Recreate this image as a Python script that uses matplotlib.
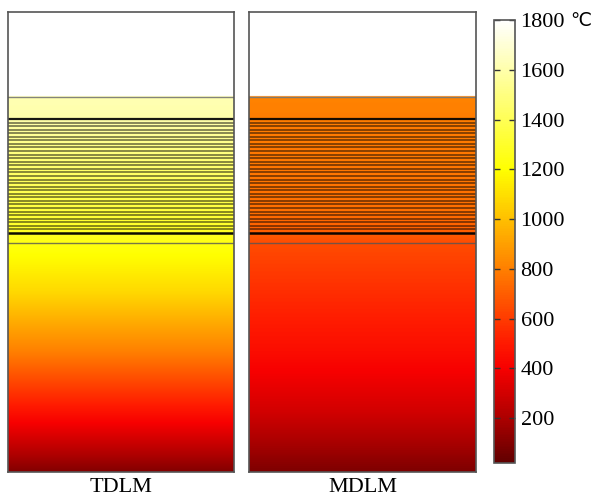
import numpy as np
import matplotlib
matplotlib.use("Agg")
import matplotlib.pyplot as plt
from matplotlib.colors import LinearSegmentedColormap, Normalize

# ---------------- data ----------------
panels = ["TDLM", "MDLM"]
# layer boundaries (height from bottom, model units)
total_height = 460
air_bottom = 375          # white (air) region above this height
slag_bottom = 353         # slag layer 353..375
band_bottom = 239         # multilayer band 239..353
n_thin_layers = 32
sub_bottom = 229          # layer 229..239, then bulk 0..229

# temperature profiles (height, °C)
tdlm_heights = [0, 60, 120, 180, 229, 239, 260, 300, 353, 375]
tdlm_temps = [100, 470, 800, 1080, 1240, 1280, 1340, 1440, 1600, 1620]
mdlm_heights = [0, 60, 120, 180, 229, 239, 260, 300, 353, 375]
mdlm_temps = [90, 300, 450, 560, 650, 700, 750, 775, 795, 810]

cbar_ticks = [200, 400, 600, 800, 1000, 1200, 1400, 1600, 1800]
cbar_labels = ["200", "400", "600", "800", "1000", "1200", "1400", "1600", "1800"]
unit_label = "℃"
tmin, tmax = 20, 1800

# colormap nodes (°C, colour)
cmap_vals = [20, 200, 400, 500, 800, 1000, 1200, 1800]
cmap_cols = [(0.38, 0, 0), (0.68, 0, 0), (0.97, 0, 0), (1, 0.1, 0),
             (1, 0.5, 0), (1, 0.75, 0), (1, 1, 0), (1, 1, 1)]

# ---------------- drawing ----------------
serif = ["Liberation Serif", "DejaVu Serif", "DejaVu Sans"]
norm = Normalize(tmin, tmax)
cmap = LinearSegmentedColormap.from_list(
    "thermal", [((v - tmin) / (tmax - tmin), c) for v, c in zip(cmap_vals, cmap_cols)])
cmap.set_bad("white")

fig = plt.figure(figsize=(5.95, 5.0), dpi=100)
ax_pos = [[8 / 595, 28 / 500, 226 / 595, 460 / 500],
          [249 / 595, 28 / 500, 227 / 595, 460 / 500]]
profiles = [(tdlm_heights, tdlm_temps), (mdlm_heights, mdlm_temps)]

yy = np.linspace(0, total_height, 1841)
for name, pos, (hs, ts) in zip(panels, ax_pos, profiles):
    ax = fig.add_axes(pos)
    temp = np.interp(yy, hs, ts)
    temp = np.where(yy > air_bottom, np.nan, temp)
    img = np.ma.masked_invalid(temp[:, None])
    ax.imshow(img, cmap=cmap, norm=norm, origin="lower", aspect="auto",
              extent=[0, 1, 0, total_height], interpolation="bilinear")
    # thin layer boundaries
    for y in np.linspace(band_bottom, slag_bottom, n_thin_layers + 1)[1:-1]:
        ax.axhline(y, color="black", lw=1.2, alpha=0.55)
    ax.axhline(slag_bottom, color="black", lw=1.6, alpha=0.9)
    ax.axhline(band_bottom, color="black", lw=1.8, alpha=0.95)
    ax.axhline(sub_bottom, color="#555555", lw=1.0, alpha=0.8)
    ax.axhline(air_bottom, color="#777777", lw=1.0, alpha=0.9)
    ax.set_xlim(0, 1)
    ax.set_ylim(0, total_height)
    ax.set_xticks([])
    ax.set_yticks([])
    for s in ax.spines.values():
        s.set_color("#555555")
        s.set_linewidth(1.2)
    cx = pos[0] + pos[2] / 2
    fig.text(cx, 12 / 500, name, ha="center", va="center",
             fontsize=16, family=serif)

cax = fig.add_axes([494 / 595, 37 / 500, 21 / 595, 443 / 500])
sm = matplotlib.cm.ScalarMappable(norm=norm, cmap=cmap)
cb = fig.colorbar(sm, cax=cax)
cb.set_ticks(cbar_ticks)
cb.set_ticklabels(cbar_labels)
cax.tick_params(axis="y", direction="in", length=4, width=1, color="#333333",
                left=True, right=True, labelsize=16, pad=4)
for lab in cax.get_yticklabels():
    lab.set_family(serif)
cb.outline.set_edgecolor("#555555")
cb.outline.set_linewidth(1.2)
fig.text(581 / 595, 1 - 21 / 500, unit_label, ha="center", va="center",
         fontsize=13.5, family=["DejaVu Sans"])

fig.savefig("out.png", dpi=100)
